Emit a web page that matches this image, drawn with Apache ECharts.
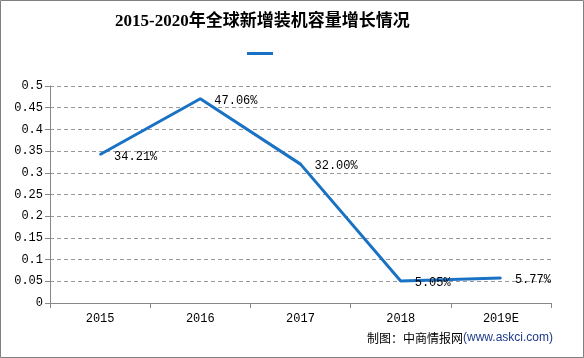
<!DOCTYPE html>
<html><head><meta charset="utf-8">
<script src="https://cdn.jsdelivr.net/npm/echarts@6/dist/echarts.min.js"></script>
<style>html,body{margin:0;padding:0;background:#fff}#c{width:584px;height:358px}</style>
</head><body><div id="c"></div>
<script>
const categories = ['2015','2016','2017','2018','2019E'];
const growth = [0.3421, 0.4706, 0.32, 0.0505, 0.0577];
const pctLabels = ['34.21%','47.06%','32.00%','5.05%','5.77%'];
const yTicks = {min:0, max:0.5, interval:0.05};
const titleText = '2015-2020年全球新增装机容量增长情况';

const chart = echarts.init(document.getElementById('c'));
const mono = "'Liberation Mono','DejaVu Sans Mono',monospace";
chart.setOption({
  animation:false,
  backgroundColor:'#fff',
  title:{text:titleText, left:115, top:13, padding:0,
    textStyle:{fontSize:17, fontWeight:'bold', color:'#000', fontFamily:"'Liberation Serif','Noto Sans CJK SC',serif"}},
  legend:{data:[{name:' ', icon:'rect'}], left:247, top:52, padding:0, itemWidth:26, itemHeight:3, itemGap:0,
    textStyle:{fontSize:1}},
  grid:{left:50, right:33, top:86, bottom:55},
  xAxis:{type:'category', data:categories, boundaryGap:true,
    axisLine:{lineStyle:{color:'#888', width:1}},
    axisTick:{show:true, length:5, lineStyle:{color:'#888'}},
    axisLabel:{color:'#000', fontSize:12, fontFamily:mono, margin:10}},
  yAxis:{type:'value', min:yTicks.min, max:yTicks.max, interval:yTicks.interval,
    axisLine:{show:true, lineStyle:{color:'#888'}},
    axisTick:{show:true, length:5, lineStyle:{color:'#888'}},
    axisLabel:{color:'#000', fontSize:12, fontFamily:mono, margin:7,
      formatter:v=>String(Math.round(v*100)/100)},
    splitLine:{lineStyle:{color:'#999', type:[4,3]}}},
  series:[{name:' ', type:'line', data:growth, showSymbol:true, symbol:'circle', symbolSize:2,
    lineStyle:{color:'#1a72c4', width:3}, itemStyle:{color:'#1a72c4'},
    label:{show:true, position:'right', distance:13, offset:[0,2], color:'#000', fontSize:12, fontFamily:mono,
      formatter:p=>pctLabels[p.dataIndex]}}],
  graphic:[
    {type:'rect', shape:{x:0.5,y:0.5,width:583,height:357}, style:{fill:null, stroke:'#808080', lineWidth:1}, silent:true},
    {type:'text', right:31, top:332, style:{
      text:'{a|制图：中商情报网}{b|(www.askci.com)}',
      rich:{a:{fontSize:12, fill:'#000', fontFamily:"'Noto Sans CJK SC',sans-serif"},
            b:{fontSize:12, fill:'#1f3a8a', fontFamily:"'Liberation Sans',sans-serif"}}}}
  ]
});
</script></body></html>
